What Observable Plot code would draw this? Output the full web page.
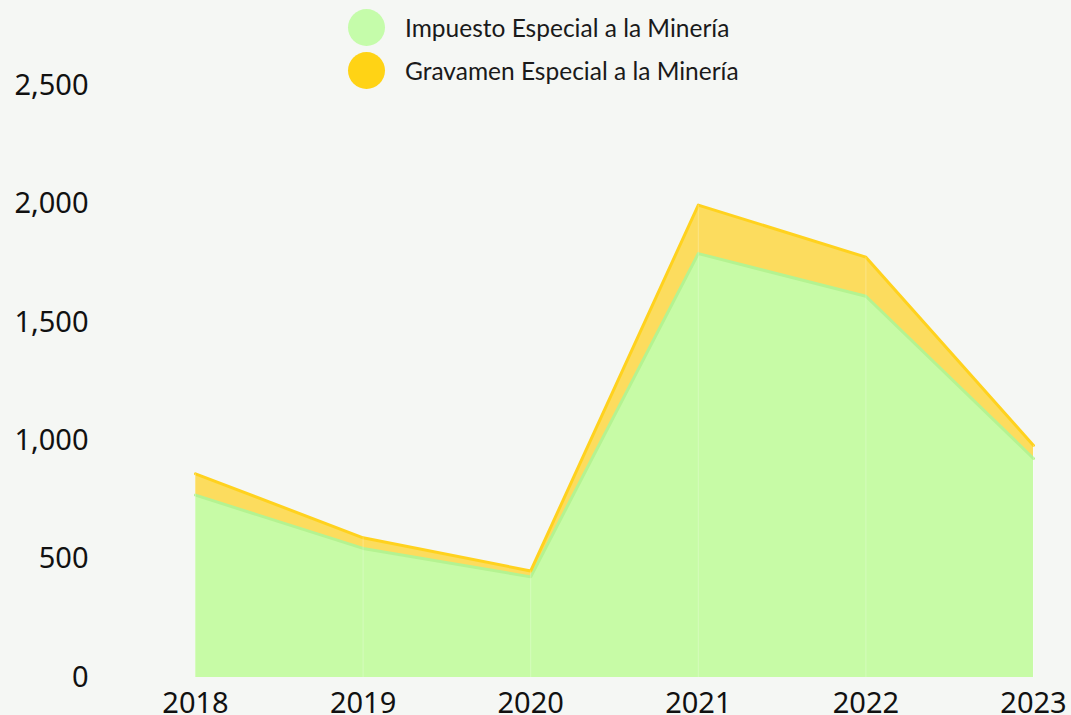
<!DOCTYPE html>
<html>
<head>
<meta charset="utf-8">
<script src="https://cdn.jsdelivr.net/npm/d3@7"></script>
<script src="https://cdn.jsdelivr.net/npm/@observablehq/plot@0.6"></script>
<style>
  html, body { margin: 0; padding: 0; background: #f5f7f4; overflow: hidden; }
  #wrap { position: relative; width: 1071px; height: 715px; }
  #legend { position: absolute; left: 348px; top: 6px; font-family: Lato, "Noto Sans", sans-serif; font-size: 24.5px; color: #1a1a1a; }
  .item { display: flex; align-items: center; height: 43px; }
  .sw { width: 37px; height: 37px; border-radius: 50%; margin-right: 20px; flex: none; }
</style>
</head>
<body>
<div id="wrap">
  <div id="chart"></div>
  <div id="legend"></div>
</div>
<script>
const years = [2018, 2019, 2020, 2021, 2022, 2023];
const seriesNames = ["Impuesto Especial a la Minería", "Gravamen Especial a la Minería"];
const impuesto = [770, 545, 425, 1790, 1610, 925];
const gravamen = [90, 45, 25, 205, 165, 55];
const yTicks = [0, 500, 1000, 1500, 2000, 2500];
const fillColors = ["#c7fba6", "#fcdc5e"];
const strokeColors = ["#b4f391", "#ffd21e"];
const legendColors = ["#c5fcaa", "#ffd315"];

const data = [];
years.forEach((yr, i) => {
  data.push({year: yr, series: seriesNames[0], value: impuesto[i]});
  data.push({year: yr, series: seriesNames[1], value: gravamen[i]});
});

const chart = Plot.plot({
  width: 1071,
  height: 715,
  marginLeft: 195,
  marginRight: 38,
  marginTop: 85,
  marginBottom: 38,
  style: {background: "#f5f7f4", fontFamily: "'Noto Sans', sans-serif", fontSize: "29px", color: "#111", overflow: "visible"},
  x: {domain: [2018, 2023], ticks: years, tickFormat: d => String(d), tickSize: 0, tickPadding: 15, label: null},
  y: {domain: [0, 2500], ticks: yTicks, tickFormat: d3.format(","), tickSize: 0, tickPadding: 107, label: null},
  color: {domain: seriesNames, range: fillColors},
  marks: [
    Plot.areaY(data, {x: "year", y: "value", fill: "series", z: "series", order: seriesNames, curve: "linear"}),
    Plot.lineY(data, Plot.stackY2({x: "year", y: "value", z: "series", order: seriesNames, stroke: d => d.series, strokeWidth: 3})),
    Plot.ruleX(years, {x: d => d, y1: 0, y2: (d, i) => impuesto[i] + gravamen[i], stroke: "#ffffff", strokeOpacity: 0.25, strokeWidth: 1})
  ]
});
chart.querySelectorAll("g[aria-label='line'] path").forEach(p => {
  const s = p.getAttribute("stroke");
  const idx = fillColors.indexOf(s);
  if (idx >= 0) p.setAttribute("stroke", strokeColors[idx]);
});
chart.querySelectorAll("g[aria-label$='tick label']").forEach(g => {
  g.setAttribute("font-family", "'Noto Sans', sans-serif");
});
document.getElementById("chart").appendChild(chart);

const legend = document.getElementById("legend");
seriesNames.forEach((name, i) => {
  const item = document.createElement("div");
  item.className = "item";
  const sw = document.createElement("div");
  sw.className = "sw";
  sw.style.background = legendColors[i];
  const t = document.createElement("span");
  t.textContent = name;
  item.appendChild(sw);
  item.appendChild(t);
  legend.appendChild(item);
});
</script>
</body>
</html>
